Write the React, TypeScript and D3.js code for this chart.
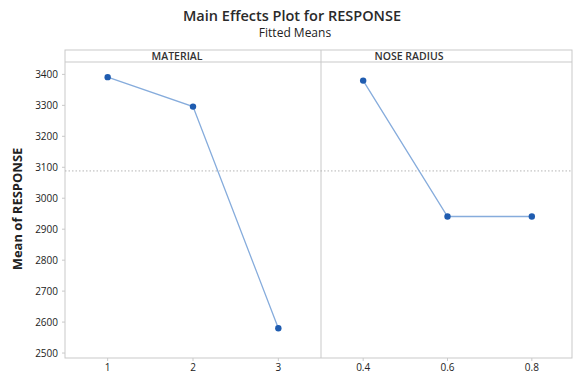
import React from "react";
import * as d3 from "d3";

// Fitted means for each factor level
const materialLevels = ["1", "2", "3"];
const materialMeans = [3391, 3296, 2580];
const noseLevels = ["0.4", "0.6", "0.8"];
const noseMeans = [3380, 2941, 2941];
const yTicks = [2500, 2600, 2700, 2800, 2900, 3000, 3100, 3200, 3300, 3400];

const W = 573;
const H = 376;
const left = 65;
const right = 572;
const top = 50;
const stripH = 12;
const bottom = 358;
const divider = 321;

const font = "'Open Sans', 'Noto Sans', sans-serif";

export default function App() {
  const y = d3.scaleLinear().domain([2484, 3440]).range([bottom, top + stripH]);
  const grand = d3.mean(materialMeans.concat(noseMeans)) as number;

  const panels = [
    { name: "MATERIAL", levels: materialLevels, values: materialMeans, x0: left, x1: divider, labelX: 177 },
    { name: "NOSE RADIUS", levels: noseLevels, values: noseMeans, x0: divider, x1: right + 2, labelX: 409 },
  ];

  return (
    <svg width={W} height={H} style={{ position: "absolute", left: 0, top: 0, background: "#fff" }} fontFamily={font}>
      <text x={292} y={21} textAnchor="middle" fontSize={14.5} fontWeight={600} fill="#2a2a2a">
        Main Effects Plot for RESPONSE
      </text>
      <text x={295} y={37} textAnchor="middle" fontSize={12} fill="#222">
        Fitted Means
      </text>

      {/* frame, strip and panel divider */}
      <rect x={left} y={top} width={right - left} height={bottom - top} fill="none" stroke="#c9c9c9" />
      <line x1={left} x2={right} y1={top + stripH} y2={top + stripH} stroke="#c9c9c9" />
      <line x1={divider} x2={divider} y1={top} y2={bottom} stroke="#c9c9c9" />

      {/* overall mean reference */}
      <line x1={left} x2={right} y1={y(grand)} y2={y(grand)} stroke="#b5b5b5" strokeDasharray="1.5,2" />

      {/* y axis */}
      {yTicks.map((t) => (
        <g key={t}>
          <line x1={left - 3} x2={left} y1={y(t)} y2={y(t)} stroke="#c9c9c9" />
          <text x={58} y={y(t) + 3.5} textAnchor="end" fontSize={10} fontWeight={500} fill="#222">
            {t}
          </text>
        </g>
      ))}
      <text
        transform={`translate(22,${(top + bottom) / 2 + 5}) rotate(-90)`}
        textAnchor="middle"
        fontSize={13}
        fontWeight={700}
        fill="#222"
      >
        Mean of RESPONSE
      </text>

      {panels.map((p) => {
        const x = d3.scalePoint<string>().domain(p.levels).range([p.x0, p.x1]).padding(0.5);
        const line = d3
          .line<number>()
          .x((_, i) => x(p.levels[i]) as number)
          .y((v) => y(v));
        return (
          <g key={p.name}>
            <text x={p.labelX} y={60} textAnchor="middle" fontSize={10.5} fontWeight={600} fill="#333">
              {p.name}
            </text>
            <path d={line(p.values) || ""} fill="none" stroke="#86acdc" strokeWidth={1.3} />
            {p.values.map((v, i) => (
              <circle key={i} cx={x(p.levels[i])} cy={y(v)} r={3.2} fill="#1f5cb0" />
            ))}
            {p.levels.map((l) => (
              <g key={l}>
                <line x1={x(l)} x2={x(l)} y1={bottom} y2={bottom + 3} stroke="#c9c9c9" />
                <text x={x(l)} y={371} textAnchor="middle" fontSize={10} fontWeight={500} fill="#222">
                  {l}
                </text>
              </g>
            ))}
          </g>
        );
      })}
    </svg>
  );
}
